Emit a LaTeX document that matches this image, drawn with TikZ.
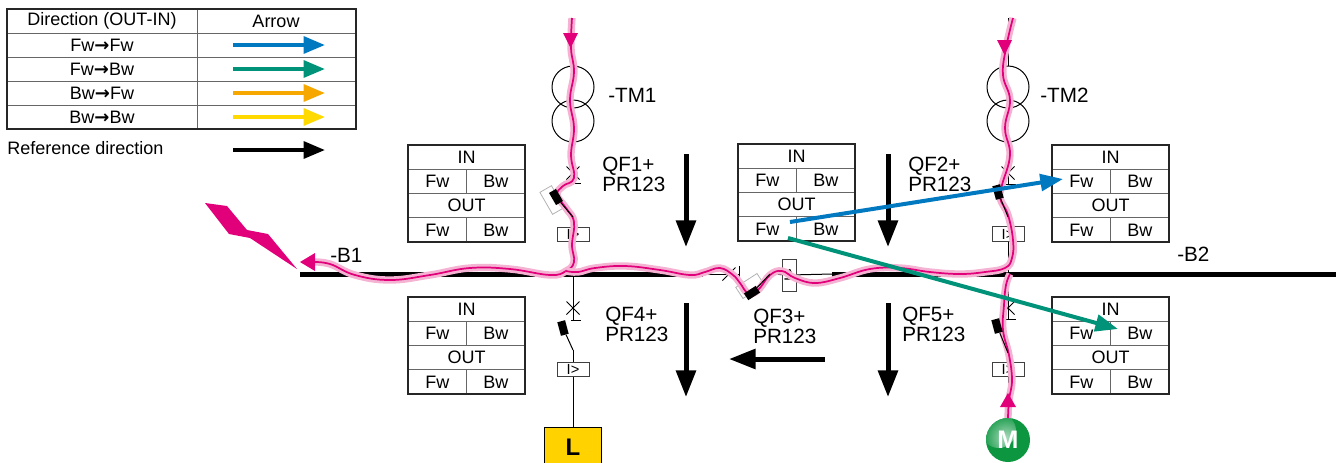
\documentclass[tikz,border=0pt]{standalone}
\usepackage{fontspec}
\setmainfont{Liberation Sans}
\newfontfamily\symfont{DejaVu Sans}
\usepackage{xcolor}
\usetikzlibrary{positioning,arrows.meta}

\definecolor{faultred}{HTML}{E2007A}
\definecolor{faultglow}{HTML}{F5B3D3}
\definecolor{fwfw}{HTML}{0079C1}
\definecolor{fwbw}{HTML}{00937A}
\definecolor{bwfw}{HTML}{F6A800}
\definecolor{bwbw}{HTML}{FFD900}
\definecolor{loadyel}{HTML}{FFD200}
\definecolor{motgreen}{HTML}{0C9640}

\tikzset{
  wire/.style={line width=0.75pt},
  bus/.style={line width=3.75pt},
  refdir/.style={line width=3.75pt,-{Triangle[length=20pt,width=14.5pt]}},
  flow/.style={line width=3pt,-{Triangle[length=17pt,width=12.5pt]}},
  legarrow/.style={line width=3pt,-{Triangle[length=16pt,width=12.5pt]}},
  faultpath/.style={draw=faultred,line width=1.3pt,preaction={draw=faultglow,line width=5.5pt}},
  lbl/.style={font=\fontsize{15.5}{15}\selectfont,align=left,inner sep=0pt},
  cell/.style={font=\fontsize{13.5}{14}\selectfont,inner sep=0pt},
  relay/.style={draw=black!75,line width=0.6pt,minimum width=24pt,minimum height=11pt,inner sep=0pt,font=\fontsize{11}{11}\selectfont},
  trip/.style={fill=black,minimum width=6pt,minimum height=10.5pt,inner sep=0pt},
  drawout/.style={draw=black!30,line width=0.6pt,minimum width=10pt,minimum height=19pt,inner sep=0pt},
  boxframe/.style={draw=black!85,line width=1.1pt},
  boxgrid/.style={draw=black!60,line width=0.75pt},
  transf/.style={circle,draw,line width=0.75pt,minimum size=31.5pt,inner sep=0pt},
  load/.style={draw,line width=0.75pt,fill=loadyel,minimum width=42.75pt,minimum height=30pt,font=\fontsize{18}{18}\selectfont\bfseries},
  motor/.style={circle,fill=motgreen,minimum size=33pt,inner sep=0pt,text=white,font=\fontsize{19}{19}\selectfont\bfseries,
    path picture={\shade[inner color=motgreen!35!white,outer color=motgreen]
      ([xshift=-7pt,yshift=7pt]path picture bounding box.center) circle (13pt);}},
}

\newcommand\brkcross[1]{\draw[wire] (#1) +(-6.5,-6.5) -- +(6.5,6.5) +(-6.5,6.5) -- +(6.5,-6.5);}

\newcommand\dirbox[3]{%
  \begin{scope}[shift={(#2,#3)}]
    \draw[boxgrid] (0,24.25) -- (117,24.25) (0,48.5) -- (117,48.5) (0,72.75) -- (117,72.75)
      (58.5,24.25) -- (58.5,48.5) (58.5,72.75) -- (58.5,97);
    \draw[boxframe] (0,0) rectangle (117,97);
    \node[cell] (#1in) at (58.5,12.1) {IN};
    \node[cell] (#1inf) at (29.25,36.4) {Fw};
    \node[cell] (#1inb) at (87.75,36.4) {Bw};
    \node[cell] (#1out) at (58.5,60.6) {OUT};
    \node[cell] (#1outf) at (29.25,84.9) {Fw};
    \node[cell] (#1outb) at (87.75,84.9) {Bw};
  \end{scope}}

\begin{document}
\begin{tikzpicture}[x=0.75pt,y=-0.75pt]
\useasboundingbox (0,0) rectangle (1336,462);

% legend
\draw[boxgrid] (7,33) -- (356,33) (7,57) -- (356,57) (7,81) -- (356,81) (7,105) -- (356,105) (197,9) -- (197,129);
\draw[boxframe] (7,9) rectangle (356,129);
\node[cell] (hdir) at (102,21) {Direction (OUT-IN)};
\node[cell] (harr) at (276,21) {Arrow};
\foreach \ya/\da/\db/\cl [count=\i] in {45/Fw/Fw/fwfw, 69/Fw/Bw/fwbw, 93/Bw/Fw/bwfw, 117/Bw/Bw/bwbw}{
  \node[cell] (leg\i) at (102,\ya) {\da{\symfont\bfseries →}\db};
  \draw[legarrow,\cl] (233,\ya) -- (325,\ya);
}
\node[cell,anchor=base west] (hrefdir) at (7,154) {Reference direction};
\draw[legarrow] (233,150) -- (325,150);

% busbars
\coordinate (b1w) at (300,274);
\coordinate (b1e) at (703,274);
\coordinate (b2w) at (832,274);
\coordinate (b2e) at (1336,274);
\node[lbl,anchor=base west] (b1lbl) at (330,262) {-B1};
\node[lbl,anchor=base west] (b2lbl) at (1177,261) {-B2};

% left column: TM1, QF1, QF4, load
\coordinate (tm1top) at (573,18);
\node[transf] (tm1a) at (573,87) {};
\node[transf] (tm1b) at (573,121) {};
\node[lbl,anchor=west] (tm1lbl) at (608,95) {-TM1};
\coordinate (qf1c) at (573,173);
\coordinate (qf1f) at (573,183);
\coordinate (qf1p) at (573,217);
\node[relay] (qf1r) at (573,234.5) {I>};
\coordinate (qf4c) at (573,308);
\coordinate (qf4f) at (573,320);
\coordinate (qf4p) at (573,350);
\node[relay] (qf4r) at (573,369.5) {I>};
\node[load] (ld) at (573,447) {L};

\draw[wire] (tm1top) -- (tm1a.north);
\draw[wire] (tm1b.south) -- (qf1f);
\draw[wire] (qf1p) -- (qf1r.north);
\draw[wire] (qf1r.south) -- (qf4f);
\draw[wire] (qf4p) -- (qf4r.north);
\draw[wire] (qf4r.south) -- (ld.north);
\brkcross{qf1c}
\brkcross{qf4c}
\draw[wire] (qf1f) +(-2,0) -- +(8,0);
\draw[wire] (qf4f) +(-2,0) -- +(8,0);
\node[drawout,rotate=30] (qf1w) at (552,200) {};

% right column: TM2, QF2, QF5, motor
\coordinate (tm2top) at (1008,18);
\node[transf] (tm2a) at (1008,87) {};
\node[transf] (tm2b) at (1008,121) {};
\node[lbl,anchor=west] (tm2lbl) at (1040,95) {-TM2};
\coordinate (qf2c) at (1008,173);
\coordinate (qf2f) at (1008,184);
\coordinate (qf2p) at (1008,217);
\node[relay] (qf2r) at (1008,234) {I>};
\coordinate (qf5c) at (1008,308);
\coordinate (qf5f) at (1008,319);
\coordinate (qf5p) at (1008,353);
\node[relay] (qf5r) at (1008,369.5) {I>};
\node[motor] (mot) at (1008,440) {M};

\draw[wire] (tm2top) -- (tm2a.north);
\draw[wire] (tm2b.south) -- (qf2f);
\draw[wire] (qf2p) -- (qf2r.north);
\draw[wire] (qf2r.south) -- (qf5f);
\draw[wire] (qf5p) -- (qf5r.north);
\draw[wire] (qf5r.south) -- (mot.north);
\brkcross{qf2c}
\brkcross{qf5c}
\draw[wire] (qf2f) +(-8,0) -- +(8,0);
\draw[wire] (qf5f) +(-8,0) -- +(8,0);

% bus tie QF3
\coordinate (qf3c) at (729,274);
\coordinate (qf3f) at (739,274);
\coordinate (qf3p) at (770,274);
\node[relay,rotate=90] (qf3r) at (789.5,275) {I>};
\draw[wire] (b1e) -- (qf3f);
\draw[wire] (qf3f) +(0,-8) -- +(0,8);
\brkcross{qf3c}
\draw[wire] (qf3p) -- (qf3r);
\draw[wire] (qf3r) -- (b2w);
\node[drawout,rotate=-57] (qf3w) at (750,286) {};

\draw[bus] (b1w) -- (b1e);
\draw[bus] (b2w) -- (b2e);

% IN/OUT boxes
\dirbox{bxa}{408}{145}
\dirbox{bxd}{408}{297}
\dirbox{bxc}{738}{144}
\dirbox{bxb}{1052}{145}
\dirbox{bxe}{1052}{297}

% fault current
\fill[faultred] (205,203) -- (227,206) -- (247,230) -- (268,234) -- (297,269) -- (250,238) -- (229,234) -- cycle;
\draw[faultpath] plot[smooth,tension=0.7] coordinates {(572,18) (571,48) (574,72) (570,100) (574,128) (571,155) (574,178) (563,186) (557,195) (566,208) (574,222) (572,245) (574,262) (566,271) (550,275) (510,269) (470,268) (430,275) (390,280) (355,275) (330,264) (312,262)};
\draw[faultpath] plot[smooth,tension=0.7] coordinates {(1013,18) (1006,48) (1003,75) (1010,100) (1005,128) (1010,155) (1002,185) (1000,198) (1008,215) (1013,240) (1012,258) (1005,268) (985,272) (960,274) (930,272) (900,268) (870,269) (840,278) (815,283) (795,278) (782,271) (770,275) (758,290) (748,293) (740,283) (733,275) (720,268) (705,272) (690,275) (660,270) (625,266) (595,268) (578,272) (566,271)};
\draw[faultpath] plot[smooth,tension=0.7] coordinates {(1008,418) (1009,400) (1012,380) (1009,355) (1003,330) (1004,305) (1006,285) (1010,274)};
\fill[faultred] (300,262) -- (315,253) -- (315,271) -- cycle;
\fill[faultred] (563,33) -- (578,33) -- (570.5,48) -- cycle;
\fill[faultred] (997,40) -- (1012,40) -- (1004.5,55) -- cycle;
\fill[faultred] (1008,393) -- (1016,407) -- (1000,407) -- cycle;

% breaker blades and trip units
\node[trip,rotate=30] (qf1t) at (556,197) {};
\node[trip,rotate=15] (qf4t) at (563,328) {};
\node[trip,rotate=15] (qf2t) at (998,192) {};
\node[trip,rotate=15] (qf5t) at (997,326) {};
\node[trip,rotate=-57] (qf3t) at (752,293) {};
\draw[wire] (qf1p) -- (qf1t);
\draw[wire] (qf4p) -- (qf4t);
\draw[wire] (qf2p) -- (qf2t);
\draw[wire] (qf5p) -- (qf5t);
\draw[wire] (qf3p) -- (qf3t);

% reference directions
\coordinate (r1s) at (686,154); \coordinate (r1e) at (686,247);
\coordinate (r4s) at (686,303); \coordinate (r4e) at (686,397);
\coordinate (r2s) at (888,154); \coordinate (r2e) at (888,247);
\coordinate (r5s) at (888,303); \coordinate (r5e) at (888,397);
\coordinate (r3s) at (825,359); \coordinate (r3e) at (729,359);
\draw[refdir] (r1s) -- (r1e);
\draw[refdir] (r4s) -- (r4e);
\draw[refdir] (r2s) -- (r2e);
\draw[refdir] (r5s) -- (r5e);
\draw[refdir] (r3s) -- (r3e);

\node[lbl,anchor=north west] (qf1lbl) at (602,157) {QF1+\\PR123};
\node[lbl,anchor=north west] (qf4lbl) at (605,307) {QF4+\\PR123};
\node[lbl,anchor=north west] (qf2lbl) at (908,157) {QF2+\\PR123};
\node[lbl,anchor=north west] (qf5lbl) at (902,307) {QF5+\\PR123};
\node[lbl,anchor=north west] (qf3lbl) at (753,309) {QF3+\\PR123};

% zone selectivity signals
\coordinate (sigb) at (790,222);
\coordinate (sigg) at (788,238);
\coordinate (qf2in) at (1063,179);
\coordinate (qf5in) at (1118,329);
\draw[flow,fwfw] (sigb) -- (qf2in);
\draw[flow,fwbw] (sigg) -- (qf5in);
\end{tikzpicture}
\end{document}
